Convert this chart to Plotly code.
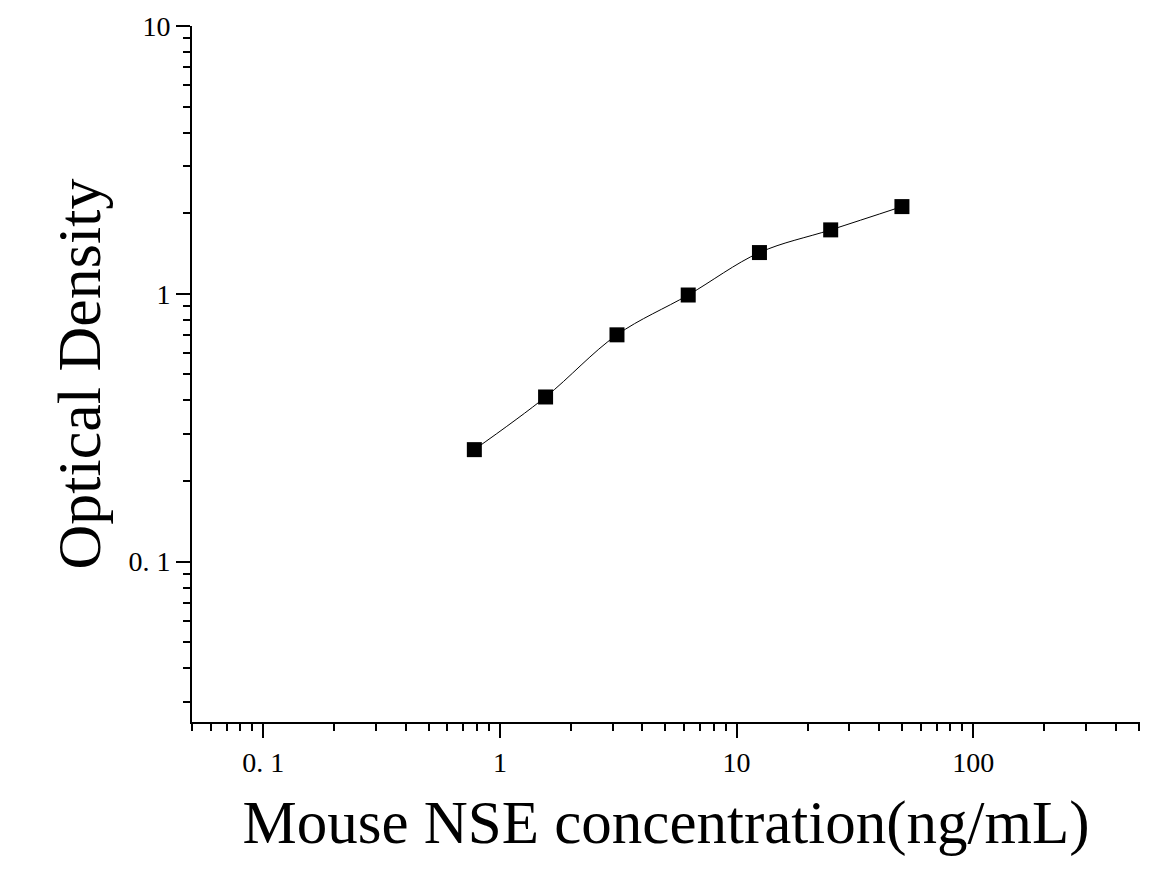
import math
import plotly.graph_objects as go

# Data
concentration = [0.78, 1.56, 3.125, 6.25, 12.5, 25, 50]
optical_density = [0.262, 0.412, 0.703, 0.99, 1.426, 1.733, 2.117]

x_tickvals = [0.1, 1, 10, 100]
x_ticktext = ["0. 1", "1", "10", "100"]
y_tickvals = [0.1, 1, 10]
y_ticktext = ["0. 1", "1", "10"]

x_range = [0.05, 507]
y_range = [0.0252, 10]

FONT = "Liberation Serif"

fig = go.Figure()
fig.add_trace(go.Scatter(
    x=concentration, y=optical_density, mode="lines",
    line=dict(color="black", width=1, shape="spline", smoothing=1.0),
    hoverinfo="skip", showlegend=False,
))
fig.add_trace(go.Scatter(
    x=concentration, y=optical_density, mode="markers",
    marker=dict(symbol="square", size=15, color="black"),
    showlegend=False,
))

fig.update_layout(
    width=1176, height=873,
    margin=dict(l=184, r=44, t=18, b=159, autoexpand=False),
    paper_bgcolor="white", plot_bgcolor="white",
    font=dict(family=FONT, color="black"),
)
fig.update_xaxes(
    type="log", automargin=False,
    range=[math.log10(x_range[0]), math.log10(x_range[1])],
    tickmode="array", tickvals=x_tickvals, ticktext=x_ticktext,
    ticks="outside", ticklen=14, tickwidth=2, tickcolor="black",
    tickfont=dict(family=FONT, size=28, color="black"),
    minor=dict(ticks="outside", ticklen=7, tickwidth=2, tickcolor="black", dtick="D1", showgrid=False),
    showline=True, linecolor="black", linewidth=2,
    showgrid=False, zeroline=False,
    title=dict(text="Mouse NSE concentration(ng/mL)", font=dict(family=FONT, size=61, color="black"), standoff=24),
)
fig.update_yaxes(
    type="log", automargin=False,
    range=[math.log10(y_range[0]), math.log10(y_range[1])],
    tickmode="array", tickvals=y_tickvals, ticktext=y_ticktext,
    ticks="outside", ticklen=14, tickwidth=2, tickcolor="black",
    tickfont=dict(family=FONT, size=28, color="black"),
    minor=dict(ticks="outside", ticklen=7, tickwidth=2, tickcolor="black", dtick="D1", showgrid=False),
    showline=True, linecolor="black", linewidth=2,
    showgrid=False, zeroline=False,
    title=dict(text="Optical Density", font=dict(family=FONT, size=62, color="black"), standoff=8),
)

fig.write_html("out.html")
